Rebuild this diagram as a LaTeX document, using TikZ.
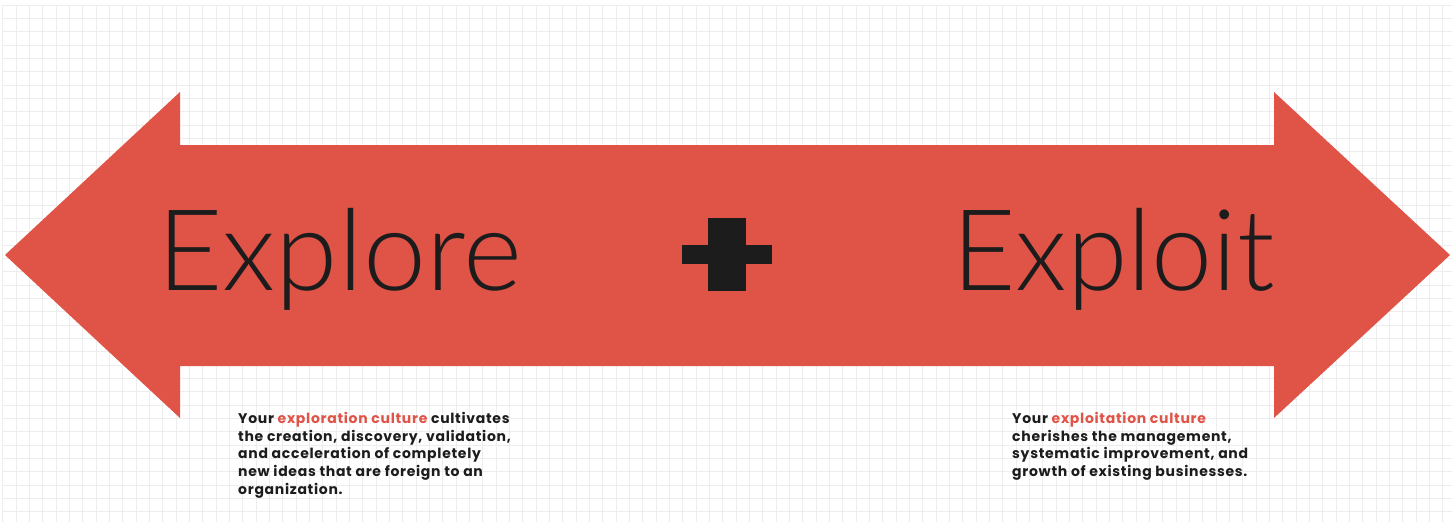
\documentclass[tikz,border=0pt]{standalone}
\usepackage{fontspec}
\setmainfont{Poppins}
\newfontfamily\wordfont{Lato Light}
\newfontfamily\blurbfont[LetterSpace=5]{Poppins}
\usetikzlibrary{positioning}
\definecolor{ArrowRed}{HTML}{E05347}
\definecolor{InkBlack}{HTML}{1C1C1C}
\definecolor{GridGray}{HTML}{EDEDED}
\newcommand\hot[1]{\textcolor{ArrowRed}{#1}}
\begin{document}
\begin{tikzpicture}[x=1pt,y=-1pt]
\tikzset{word/.style={font=\wordfont\fontsize{113}{113}\selectfont,text=InkBlack,inner sep=0pt},
         blurb/.style={font=\blurbfont\bfseries\fontsize{14}{17.75}\selectfont,text=InkBlack,align=left,inner sep=0pt,anchor=north west},
         gridline/.style={draw=GridGray,line width=.7pt}}
\useasboundingbox (0,0) rectangle (1456,527);
\fill[white] (0,0) rectangle (1456,527);
% background grid
\foreach \i in {0,...,108} \draw[gridline] ({2.7+13.333*\i},5) -- ({2.7+13.333*\i},522);
\foreach \j in {0,...,38} \draw[gridline] (2.7,{5+13.333*\j}) -- (1452,{5+13.333*\j});
% double arrow
\fill[ArrowRed] (5,255) -- (180,92) -- (180,145) -- (1274,145) -- (1274,92) -- (1450,255)
  -- (1274,418) -- (1274,366) -- (180,366) -- (180,418) -- cycle;
% plus sign
\fill[InkBlack] (708,218) rectangle (746,291);
\fill[InkBlack] (682,245) rectangle (772,264);
\node[word,anchor=base west] (explore) at (157,290) {Explore};
\node[word,xscale=.97,anchor=base east] (exploit) at (1275,290) {Exploit};
\node[blurb] (exploretext) at (238,412) {Your \hot{exploration culture} cultivates\\the creation, discovery, validation,\\and acceleration of completely\\new ideas that are foreign to an\\organization.};
\node[blurb] (exploittext) at (1012,412) {Your \hot{exploitation culture}\\cherishes the management,\\systematic improvement, and\\growth of existing businesses.};
\end{tikzpicture}
\end{document}
